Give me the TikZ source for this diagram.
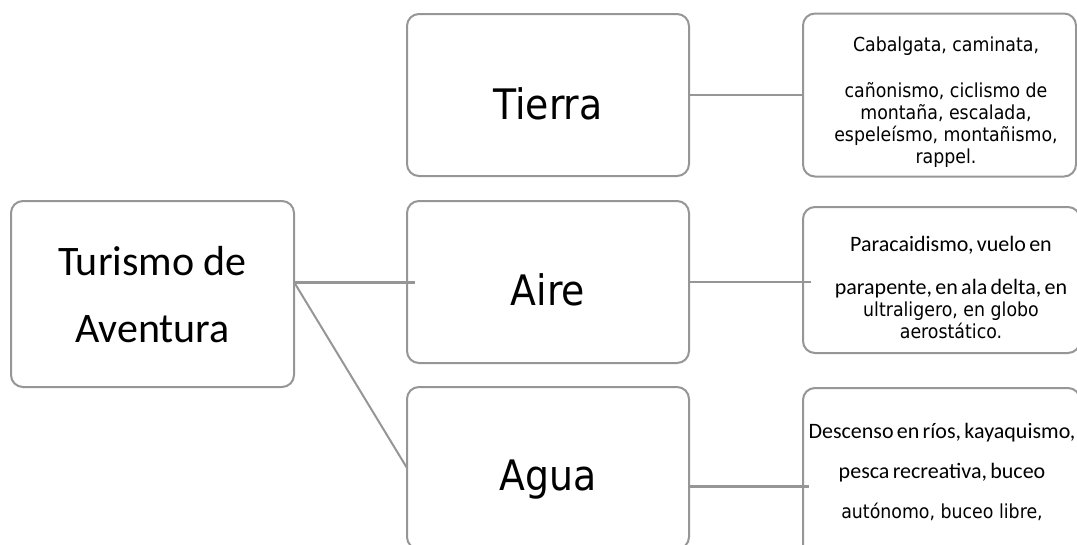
\documentclass[tikz,border=0pt]{standalone}
\usepackage{fontspec}
\usetikzlibrary{positioning}
\newfontfamily\verfont{DejaVu Sans}[FakeStretch=0.9]
\newfontfamily\calfont{Carlito}
\definecolor{grisborde}{RGB}{150,150,150}
\newcommand\letracal{\calfont\fontsize{22}{22}\selectfont\spaceskip=0.15em plus 0.05em}

\begin{document}
\begin{tikzpicture}[x=1pt, y=-1pt,
		caja/.style={draw=grisborde, line width=2pt, rounded corners=12pt, outer sep=0pt,
			minimum width=282pt, minimum height=162pt},
		detalle/.style={caja, minimum width=277pt},
		enlace/.style={draw=grisborde, line width=2pt},
		titulo/.style={font=\verfont\fontsize{42}{50}\selectfont, anchor=base, inner sep=0pt},
		lista/.style={font=\verfont\fontsize{19.3}{22}\selectfont, align=center, anchor=base, inner sep=0pt},
	]
		\path[use as bounding box, clip] (0,0) rectangle (1077,544);
		
		% cajas
		\node[caja, minimum width=283pt, minimum height=186pt] (turismo) at (152.5,294) {};
		\node[caja] (aire) at (548,282) {};
		\node[caja, above=25pt of aire] (tierra) {};
		\node[caja, below=24pt of aire] (agua) {};
		\node[detalle, minimum width=273pt, minimum height=163pt, right=114pt of tierra] (tierraD) {};
		\node[detalle, minimum height=146pt, right=114pt of aire, yshift=2pt] (aireD) {};
		\node[detalle, minimum height=196pt, right=114pt of agua, yshift=-18pt] (aguaD) {};
		
		% textos (base = ultima linea)
		\node[font=\calfont\fontsize{42}{67}\selectfont, align=center, anchor=base, inner sep=0pt]
			(turismoT) at ([yshift=-48pt]turismo.center) {Turismo de\\Aventura};
		\node[titulo] (tierraT) at ([yshift=-24.5pt]tierra.center) {Tierra};
		\node[titulo] (aireT) at ([yshift=-23pt]aire.center) {Aire};
		\node[titulo] (aguaT) at ([yshift=-22pt]agua.center) {Agua};
		
		\node[lista] (tierraL) at ([xshift=6.5pt, yshift=-68.5pt]tierraD.center)
			{Cabalgata, caminata,\\[24pt] cañonismo, ciclismo de\\ montaña, escalada,\\ espeleísmo, montañismo,\\ rappel.};
		\node[lista] (aireL) at ([xshift=9.5pt, yshift=-58pt]aireD.center)
			{\letracal Paracaidismo, vuelo en\\[21pt] \letracal parapente, en ala delta, en\\ ultraligero, en globo\\ aerostático.};
		\node[lista] (aguaL) at ([xshift=0.5pt, yshift=-32pt]aguaD.center)
			{\letracal Descenso en ríos, kayaquismo,\\[18pt] \letracal pesca recreativa, buceo\\[18pt] autónomo, buceo libre,};
		
		% enlaces
		\draw[enlace, line width=3pt] (turismo.east |- aire.west) -- ([xshift=8pt]aire.west);
		\draw[enlace] (turismo.east |- aire.west) -- (agua.west);
		\draw[enlace] (tierra.east) -- (tierraD.west);
		\draw[enlace] (aire.east) -- ([xshift=8pt]aireD.west |- aire.east);
		\draw[enlace, line width=3pt] (agua.east |- aguaD.west) -- ([xshift=6pt]aguaD.west);
		
\end{tikzpicture}
\end{document}
